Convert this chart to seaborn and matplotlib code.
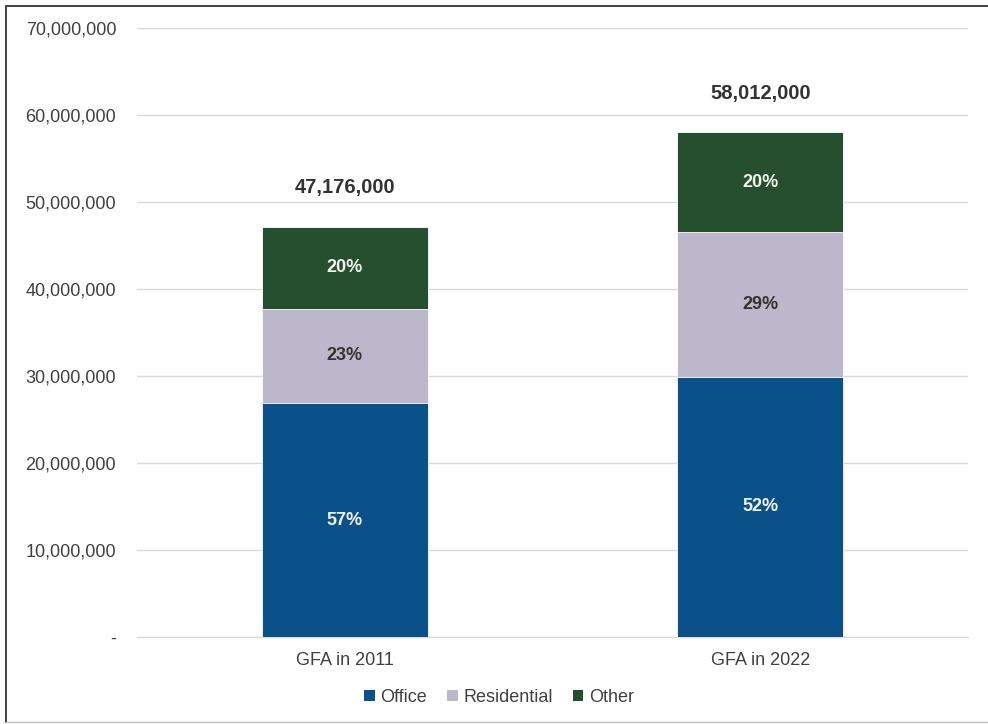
import matplotlib
matplotlib.use("Agg")
import matplotlib.pyplot as plt
from matplotlib.patches import Patch
from matplotlib.lines import Line2D
from matplotlib.ticker import FuncFormatter
import numpy as np
import pandas as pd
import seaborn as sns

# Gross floor area by use (m²)
categories = ["GFA in 2011", "GFA in 2022"]
office = [26_890_000, 29_900_000]
residential = [10_850_000, 16_600_000]
other = [9_436_000, 11_512_000]
series_names = ["Office", "Residential", "Other"]
y_ticks = [0, 10_000_000, 20_000_000, 30_000_000, 40_000_000, 50_000_000, 60_000_000, 70_000_000]

colors = {"Office": "#0B5189", "Residential": "#BDB7CC", "Other": "#264F2F"}
label_colors = {"Office": "#F2F2F2", "Residential": "#333333", "Other": "#F0F4EC"}

sns.set_theme(style="white")
plt.rcParams["font.family"] = ["Liberation Sans", "DejaVu Sans"]

df = pd.DataFrame({"category": categories, "Office": office,
                   "Residential": residential, "Other": other})
df["total"] = df[series_names].sum(axis=1)
df["cum_Office"] = df["Office"]
df["cum_Residential"] = df["Office"] + df["Residential"]
df["cum_Other"] = df["total"]

fig = plt.figure(figsize=(9.88, 7.24), dpi=100)
ax = fig.add_axes([0.1387, 0.1202, 0.8411, 0.8411])

# stacked bars: draw cumulative heights from the top layer down
for name in reversed(series_names):
    sns.barplot(data=df, x="category", y=f"cum_{name}", color=colors[name],
                width=0.4, saturation=1, ax=ax, zorder=3, edgecolor="white",
                linewidth=0.6)

ax.set_ylim(0, 70_000_000)
ax.set_xlim(-0.5, 1.5)
ax.set_yticks(y_ticks)
ax.yaxis.set_major_formatter(FuncFormatter(lambda v, p: "-" if v == 0 else f"{v:,.0f}"))
ax.grid(axis="y", color="#D9D9D9", linewidth=1.0, zorder=0)
ax.grid(axis="x", visible=False)
for side in ["left", "right", "top"]:
    ax.spines[side].set_visible(False)
ax.spines["bottom"].set_color("#D9D9D9")
ax.spines["bottom"].set_linewidth(1.0)
ax.tick_params(axis="y", length=0, pad=15, labelsize=13, labelcolor="#404040")
ax.tick_params(axis="x", length=0, pad=11, labelsize=13, labelcolor="#404040")
ax.set_xlabel("")
ax.set_ylabel("")

# share labels inside each segment and totals above each bar
for i, row in df.iterrows():
    base = 0
    for name in series_names:
        val = row[name]
        share = val / row["total"] * 100
        ax.text(i, base + val / 2, f"{share:.0f}%", ha="center", va="center",
                fontsize=13, fontweight="bold", color=label_colors[name], zorder=4)
        base += val
    ax.annotate(f"{row['total']:,.0f}", xy=(i, row["total"]), xytext=(0, 28),
                textcoords="offset points", ha="center", va="center",
                fontsize=14.5, fontweight="bold", color="#333333")

handles = [Patch(facecolor=colors[n], edgecolor="none", label=n) for n in series_names]
fig.legend(handles=handles, loc="center", bbox_to_anchor=(0.505, 0.037), ncol=3,
           frameon=False, fontsize=13, handlelength=0.6, handleheight=0.6,
           handletextpad=0.3, columnspacing=1.1, labelcolor="#404040")

# frame around the chart: dark left and top edges, faint bottom edge
fig.add_artist(Line2D([0.0065, 0.0065], [0.003, 0.992], transform=fig.transFigure,
                      color="#404040", linewidth=1.4))
fig.add_artist(Line2D([0.0065, 1.0], [0.992, 0.992], transform=fig.transFigure,
                      color="#404040", linewidth=1.4))
fig.add_artist(Line2D([0.0065, 1.0], [0.003, 0.003], transform=fig.transFigure,
                      color="#BFBFBF", linewidth=1.0))

fig.savefig("out.png", dpi=100, facecolor="white")
